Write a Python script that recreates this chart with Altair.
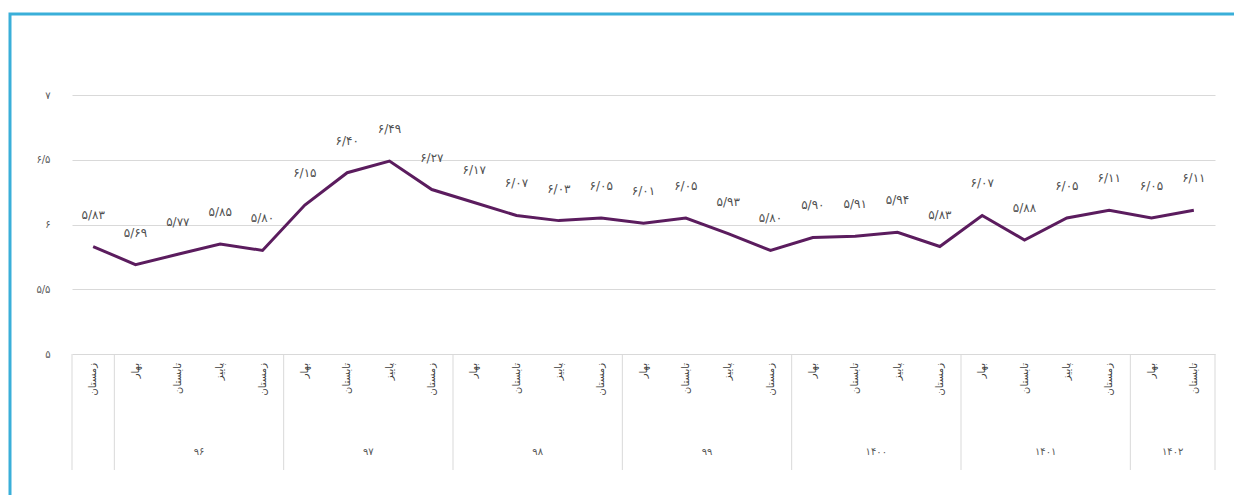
import altair as alt
import pandas as pd

# ---- data ----
seasons = (["زمستان"]
           + ["بهار", "تابستان", "پاییز", "زمستان"] * 6
           + ["بهار", "تابستان"])
values = [5.83, 5.69, 5.77, 5.85, 5.80, 6.15, 6.40, 6.49, 6.27, 6.17,
          6.07, 6.03, 6.05, 6.01, 6.05, 5.93, 5.80, 5.90, 5.91, 5.94,
          5.83, 6.07, 5.88, 6.05, 6.11, 6.05, 6.11]
year_names = ["", "۹۶", "۹۷", "۹۸", "۹۹", "۱۴۰۰", "۱۴۰۱", "۱۴۰۲"]
year_sizes = [1, 4, 4, 4, 4, 4, 4, 2]
y_ticks = [5, 5.5, 6, 6.5, 7]
y_tick_labels = ["۵", "۵/۵", "۶", "۶/۵", "۷"]

FA = str.maketrans("0123456789.", "۰۱۲۳۴۵۶۷۸۹/")


def fa(v):
    return f"{v:.2f}".translate(FA)


n = len(values)
df = pd.DataFrame({
    "xc": [i + 0.5 for i in range(n)],
    "value": values,
    "label": [fa(v) for v in values],
    "season": seasons,
})

bounds = [0]
for s in year_sizes:
    bounds.append(bounds[-1] + s)
sep_df = pd.DataFrame({"pos": bounds})
year_df = pd.DataFrame({
    "pos": [(bounds[i] + bounds[i + 1]) / 2 for i in range(len(year_sizes))],
    "year": year_names,
})

FONT = "DejaVu Sans"
W, H = 1143, 259

xscale = alt.Scale(domain=[0, n], nice=False, zero=False)
yscale = alt.Scale(domain=[5, 7], nice=False, zero=False)

label_expr = " : ".join(
    f"datum.value == {v} ? '{t}'" for v, t in zip(y_ticks, y_tick_labels)
) + " : ''"

base = alt.Chart(df)

line = base.mark_line(color="#5b1c5e", strokeWidth=3).encode(
    x=alt.X("xc:Q", scale=xscale, axis=None),
    y=alt.Y("value:Q", scale=yscale, title=None,
            axis=alt.Axis(values=y_ticks, grid=True, gridColor="#d9d9d9",
                          gridWidth=1, domain=False, ticks=False,
                          labelExpr=label_expr, labelPadding=22,
                          labelFontSize=10, labelColor="#595959",
                          labelFont=FONT)),
)

pt_labels = base.mark_text(dy=-32, fontSize=12, font=FONT,
                           color="#505050", baseline="middle").encode(
    x=alt.X("xc:Q", scale=xscale, axis=None),
    y=alt.Y("value:Q", scale=yscale),
    text="label:N",
)

season_text = base.mark_text(angle=270, align="right", baseline="middle",
                             fontSize=10, font=FONT, color="#404040").encode(
    x=alt.X("xc:Q", scale=xscale, axis=None),
    y=alt.value(H + 9),
    text="season:N",
)

seps = alt.Chart(sep_df).mark_rule(color="#d9d9d9", strokeWidth=1).encode(
    x=alt.X("pos:Q", scale=xscale, axis=None),
    y=alt.value(H),
    y2=alt.value(H + 116),
)

years = alt.Chart(year_df).mark_text(fontSize=10, font=FONT,
                                     color="#595959", baseline="middle").encode(
    x=alt.X("pos:Q", scale=xscale, axis=None),
    y=alt.value(H + 98),
    text="year:N",
)

border = alt.Chart(pd.DataFrame({"a": [0]})).mark_rect(
    fillOpacity=0, stroke="#3aafd9", strokeWidth=3).encode(
    x=alt.value(-62), x2=alt.value(1190),
    y=alt.value(-81), y2=alt.value(430),
)

chart = alt.layer(border, seps, line, pt_labels, season_text, years).properties(
    width=W, height=H,
    background="white",
    autosize=alt.AutoSizeParams(type="none"),
    padding={"left": 64, "top": 87, "right": 19, "bottom": 141},
).configure_view(strokeOpacity=0, strokeWidth=0)

chart.save("out.html", embed_options={"renderer": "svg", "actions": False})
